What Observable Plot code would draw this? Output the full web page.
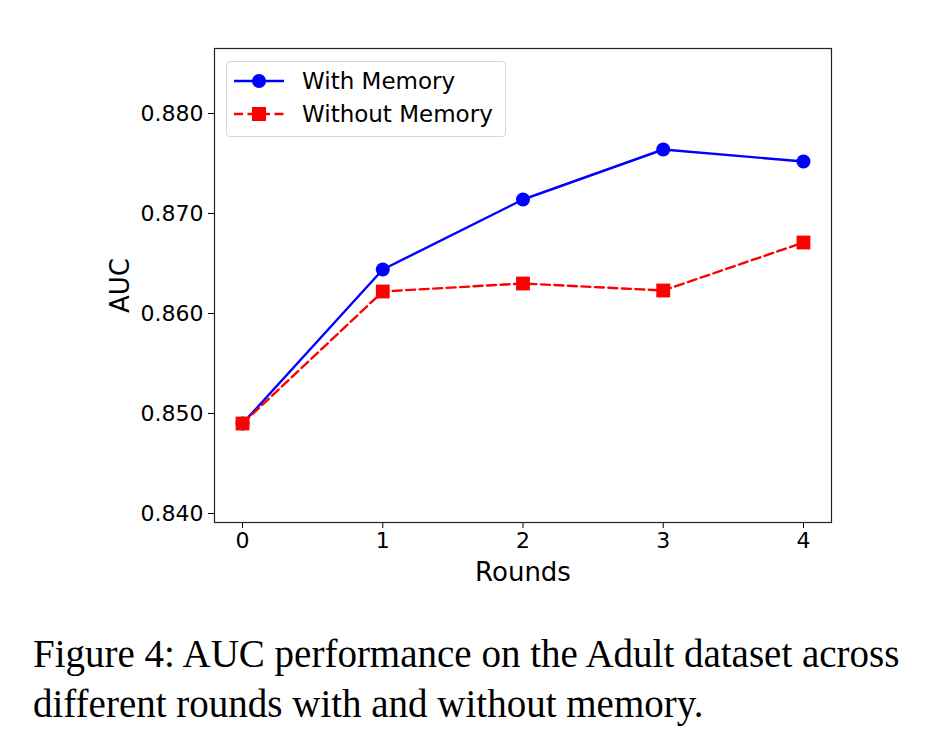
<!DOCTYPE html>
<html>
<head>
<meta charset="utf-8">
<script src="https://cdn.jsdelivr.net/npm/d3@7"></script>
<script src="https://cdn.jsdelivr.net/npm/@observablehq/plot@0.6"></script>
<style>
  html, body { margin: 0; padding: 0; background: #fff; }
  #wrap { position: relative; width: 938px; height: 756px; }
  #legend {
    position: absolute; left: 226px; top: 61px; width: 280px; height: 76px;
    box-sizing: border-box; border: 1px solid #d6d6d6; border-radius: 4px; background: rgba(255,255,255,0.8);
    font-family: "DejaVu Sans", sans-serif; font-size: 23px; color: #000;
  }
  .row { position: absolute; left: 0; height: 30px; display: flex; align-items: center; }
  .row svg { margin-left: 7px; }
  .row span { margin-left: 18px; white-space: nowrap; }
  #caption {
    position: absolute; left: 33px; top: 629px; width: 905px;
    font-family: "Liberation Serif", "Times New Roman", serif; font-size: 39px; line-height: 50px; color: #000;
    white-space: nowrap;
  }
</style>
</head>
<body>
<div id="wrap">
  <div id="chart"></div>
  <div id="legend"></div>
  <div id="caption">Figure 4: AUC performance on the Adult dataset across<br>different rounds with and without memory.</div>
</div>
<script>
const rounds = [0, 1, 2, 3, 4];
const withMemory = [0.8490, 0.8644, 0.8714, 0.8764, 0.8752];
const withoutMemory = [0.8490, 0.8622, 0.8630, 0.8623, 0.8671];
const yTicks = [0.840, 0.850, 0.860, 0.870, 0.880];
const seriesNames = ["With Memory", "Without Memory"];

const dataWith = rounds.map((r, i) => ({round: r, auc: withMemory[i]}));
const dataWithout = rounds.map((r, i) => ({round: r, auc: withoutMemory[i]}));

const plot = Plot.plot({
  width: 938,
  height: 600,
  marginTop: 48,
  marginBottom: 78,
  marginLeft: 214,
  marginRight: 107,
  style: {fontFamily: "DejaVu Sans, sans-serif", fontSize: "22px", color: "#000", background: "#fff"},
  x: {domain: [-0.2, 4.2], ticks: rounds, tickFormat: d => String(d), label: "Rounds", labelAnchor: "center", labelArrow: "none", tickSize: 6, tickPadding: 4, labelOffset: 58},
  y: {domain: [0.8391, 0.8865], ticks: yTicks, tickFormat: d3.format(".3f"), label: "AUC", labelAnchor: "center", labelArrow: "none", tickSize: 6, tickPadding: 5, labelOffset: 104},
  marks: [
    Plot.frame({stroke: "#222", strokeWidth: 1.2}),
    Plot.line(dataWith, {x: "round", y: "auc", stroke: "#0000ff", strokeWidth: 2.4}),
    Plot.line(dataWithout, {x: "round", y: "auc", stroke: "#ff0000", strokeWidth: 2.4, strokeDasharray: "9,4.5"}),
    Plot.dot(dataWith, {x: "round", y: "auc", fill: "#0000ff", r: 7, symbol: "circle"}),
    Plot.dot(dataWithout, {x: "round", y: "auc", fill: "#ff0000", r: 7.8, symbol: "square"})
  ]
});
plot.querySelectorAll('[aria-label="x-axis label"] text, [aria-label="y-axis label"] text').forEach(t => t.style.fontSize = "26px");
document.getElementById("chart").appendChild(plot);

// legend
const legend = d3.select("#legend");
const specs = [
  {name: seriesNames[0], color: "#0000ff", dash: null, shape: "circle", top: 4},
  {name: seriesNames[1], color: "#ff0000", dash: "9,4.5", shape: "square", top: 37}
];
specs.forEach(s => {
  const row = legend.append("div").attr("class", "row").style("top", s.top + "px");
  const svg = row.append("svg").attr("width", 50).attr("height", 30);
  svg.append("line").attr("x1", 0).attr("x2", 50).attr("y1", 15).attr("y2", 15)
    .attr("stroke", s.color).attr("stroke-width", 2.4).attr("stroke-dasharray", s.dash);
  if (s.shape === "circle") svg.append("circle").attr("cx", 25).attr("cy", 15).attr("r", 7).attr("fill", s.color);
  else svg.append("rect").attr("x", 18).attr("y", 8).attr("width", 14).attr("height", 14).attr("fill", s.color);
  row.append("span").text(s.name);
});
</script>
</body>
</html>
